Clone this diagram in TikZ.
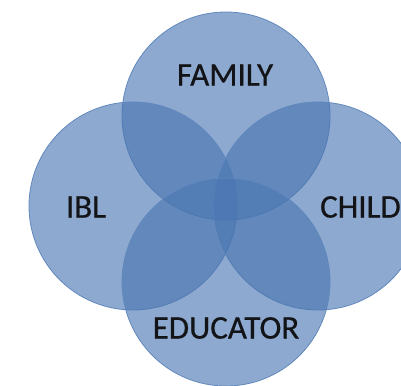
\documentclass[tikz,border=0pt]{standalone}
\usepackage{fontspec}
\setmainfont{Carlito}
\newfontfamily\tagfont[FakeBold=0.6]{Carlito}
\usetikzlibrary{calc}

\definecolor{vennblue}{RGB}{73,117,177}
\definecolor{vennedge}{RGB}{96,136,190}
\definecolor{tagtext}{RGB}{18,20,24}

\begin{document}
\begin{tikzpicture}[
    x=1pt, y=-1pt, % 以像素為單位，y 軸向下
    % 定義通用樣式
    venn/.style={
        circle,
        draw=vennedge,
        line width=0.8pt,
        fill=vennblue,
        fill opacity=0.62,
        minimum size=208pt,
        inner sep=0pt,
        outer sep=0pt
    },
    tag/.style={
        font=\tagfont\fontsize{33}{39}\selectfont,
        text=tagtext,
        inner sep=0pt
    }
]
    % 固定畫面大小
    \useasboundingbox (0,0) rectangle (401,385);

    % --- 1. 四個圓 ---
    \node[venn] (family) at (226,116) {};
    \node[venn] (ibl) at (133,206) {};
    \node[venn] (child) at (318,206) {};
    \node[venn] (educator) at (226,282) {};

    % --- 2. 標籤 ---
    \node[tag] (familytag) at ($(family.center) + (-1,-41)$) {FAMILY};
    \node[tag] (ibltag) at ($(ibl.center) + (-47,1)$) {IBL};
    \node[tag, anchor=east] (childtag) at ($(child.center) + (83,1)$) {CHILD};
    \node[tag] (educatortag) at ($(educator.center) + (0,46)$) {EDUCATOR};

\end{tikzpicture}
\end{document}
